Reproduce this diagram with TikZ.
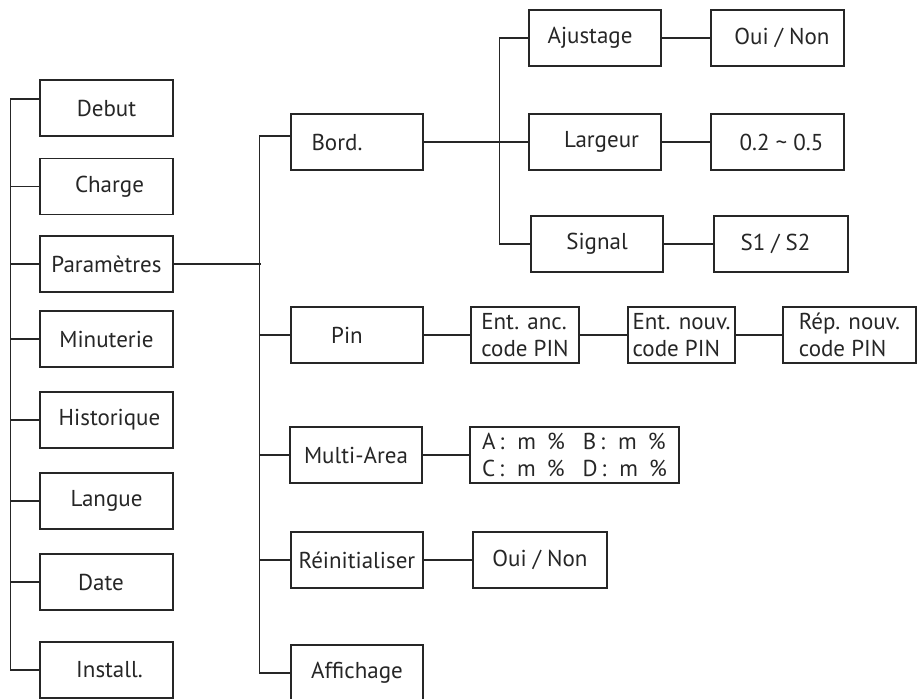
\documentclass[tikz,border=0pt]{standalone}
\usepackage{fontspec}
\setmainfont{PT Sans}
\definecolor{ink}{HTML}{262626}

\begin{document}
\begin{tikzpicture}[x=1pt,y=-1pt,line width=1.4pt,color=ink,
    box/.style={draw,minimum width=133,minimum height=56,inner sep=0,font=\fontsize{23}{27}\selectfont},
    pinbox/.style={box,minimum width=108,align=left}]
    \useasboundingbox (0,0) rectangle (917,698);
    % main menu
    \node[box] (debut) at (106.5,108) {Debut};
    \node[box] (charge) at (106.5,186.5) {\hspace*{6pt}Charge};
    \node[box] (param) at (106.5,264) {Paramètres};
    \node[box] (minut) at (106.5,339) {Minuterie};
    \node[box] (histo) at (106.5,420) {\hspace*{6pt}Historique};
    \node[box] (langue) at (106.5,501) {Langue};
    \node[box] (date) at (106.5,582) {Date\hspace*{11pt}};
    \node[box] (install) at (106.5,670) {\hspace*{6pt}Install.};
    \draw ([yshift=9]debut.west) -- ++(-29,0) |- (install.west);
    \draw (charge.west) -- ++(-29,0);
    \draw (param.west) -- ++(-29,0);
    \draw (minut.west) -- ++(-29,0);
    \draw (histo.west) -- ++(-29,0);
    \draw (langue.west) -- ++(-29,0);
    \draw (date.west) -- ++(-29,0);
    % parametres submenu
    \node[box,minimum width=132] (bord) at (357,142) {Bord.\hspace*{40pt}};
    \node[box,minimum width=132] (pin) at (357,335) {Pin\hspace*{20pt}};
    \node[box,minimum width=132] (multi) at (356,455) {Multi-Area};
    \node[box,minimum width=132] (reinit) at (357,560) {Réinitialiser};
    \node[box,minimum width=132] (affich) at (357,673) {Affichage};
    \draw (param.east) -- ++(87,0);
    \draw ([yshift=6]bord.west) -- ++(-31,0) |- (affich.west);
    \draw (pin.west) -- ++(-31,0);
    \draw (multi.west) -- ++(-30,0);
    \draw (reinit.west) -- ++(-31,0);
    % bord.
    \node[box,minimum width=132] (ajust) at (595,38) {Ajustage\hspace*{10pt}};
    \node[box,minimum width=132] (larg) at (595,142) {\hspace*{13pt}Largeur};
    \node[box,minimum width=132] (signal) at (597,244) {Signal};
    \draw (bord.east) -- (larg.west);
    \draw (ajust.west) -- ++(-29,0) |- (signal.west);
    \node[box] (ajustval) at (777.5,38) {\hspace*{9pt}Oui / Non};
    \node[box] (largval) at (777.5,142) {\hspace*{8pt}0.2 \textasciitilde{} 0.5};
    \node[box,minimum width=134] (signalval) at (781,244) {S1 / S2\hspace*{11pt}};
    \draw (ajust.east) -- (ajustval.west);
    \draw (larg.east) -- (largval.west);
    \draw (signal.east) -- (signalval.west);
    % pin
    \node[pinbox] (entanc) at (525,335) {Ent. anc.\\code PIN};
    \node[pinbox,minimum width=107] (entnouv) at (681.5,335) {Ent. nouv.\\code PIN};
    \node[pinbox,minimum width=133] (repnouv) at (849.5,335) {Rép. nouv.\\code PIN};
    \draw (pin.east) -- (entanc.west);
    \draw (entanc.east) -- (entnouv.west);
    \draw (entnouv.east) -- (repnouv.west);
    % multi-area
    \node[box,minimum width=209,align=left] (zones) at (574.5,455)
        {A\,:\hspace{13pt}m\hspace{11pt}\%\hspace{18pt}B\,:\hspace{13pt}m\hspace{11pt}\%\\
         C\,:\hspace{13pt}m\hspace{11pt}\%\hspace{18pt}D\,:\hspace{13pt}m\hspace{11pt}\%};
    \draw (multi.east) -- (zones.west);
    % reinitialiser
    \node[box,minimum width=134] (reinitval) at (540,560) {Oui / Non};
    \draw (reinit.east) -- (reinitval.west);
\end{tikzpicture}
\end{document}
